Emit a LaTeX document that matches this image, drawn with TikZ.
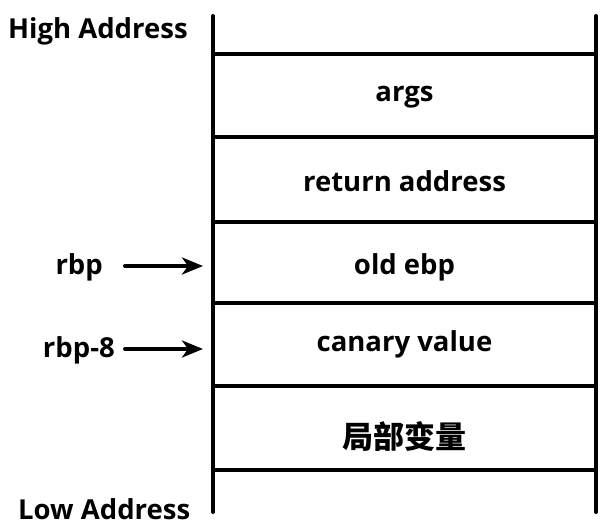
\documentclass[tikz,border=0pt]{standalone}
\usepackage{fontspec}
\usepackage{tikz}
\usetikzlibrary{arrows.meta}
\setmainfont{Open Sans}
\newfontfamily\cjk{Noto Sans CJK SC}

\begin{document}
\begin{tikzpicture}[x=1pt,y=-1pt,
  lbl/.style={font=\bfseries\fontsize{27.5}{32}\selectfont,inner sep=0pt},
  wall/.style={line width=4pt,line cap=round},
  ptr/.style={line width=4pt,line cap=round,-{Stealth[length=21pt,width=17pt,inset=6pt]}}]
\useasboundingbox (0,0) rectangle (612,530);
\draw [wall] (213,16) -- (213,512);
\draw [wall] (596,16) -- (596,512);
\draw [line width=3.5pt] (213,54) -- (596,54);
\draw [line width=3.5pt] (213,137) -- (596,137);
\draw [line width=3.5pt] (213,222) -- (596,222);
\draw [line width=3.5pt] (213,303) -- (596,303);
\draw [line width=3.5pt] (213,386) -- (596,386);
\draw [line width=3.5pt] (213,470) -- (596,470);
\node [lbl,anchor=west] (high) at (8,31) {High Address};
\node [lbl,anchor=west] (low) at (18,509) {Low Address};
\node [lbl] (args) at (404.5,97) {args};
\node [lbl] (ret) at (404.5,181) {return address};
\node [lbl] (oldebp) at (404.5,267) {old ebp};
\node [lbl] (canary) at (404.5,344) {canary value};
\node [lbl] (local) at (404.5,437) {\cjk\fontsize{31}{35}\selectfont 局部变量};
\node [lbl,anchor=east] (rbp) at (103,267) {rbp};
\node [lbl,anchor=east] (rbp8) at (115,350) {rbp-8};
\coordinate (rbpslot) at (203,266);
\coordinate (rbp8slot) at (203,349);
\draw [ptr] (rbp.east |- rbpslot) ++(22,0) -- (rbpslot);
\draw [ptr] (rbp8.east |- rbp8slot) ++(10,0) -- (rbp8slot);
\end{tikzpicture}
\end{document}
